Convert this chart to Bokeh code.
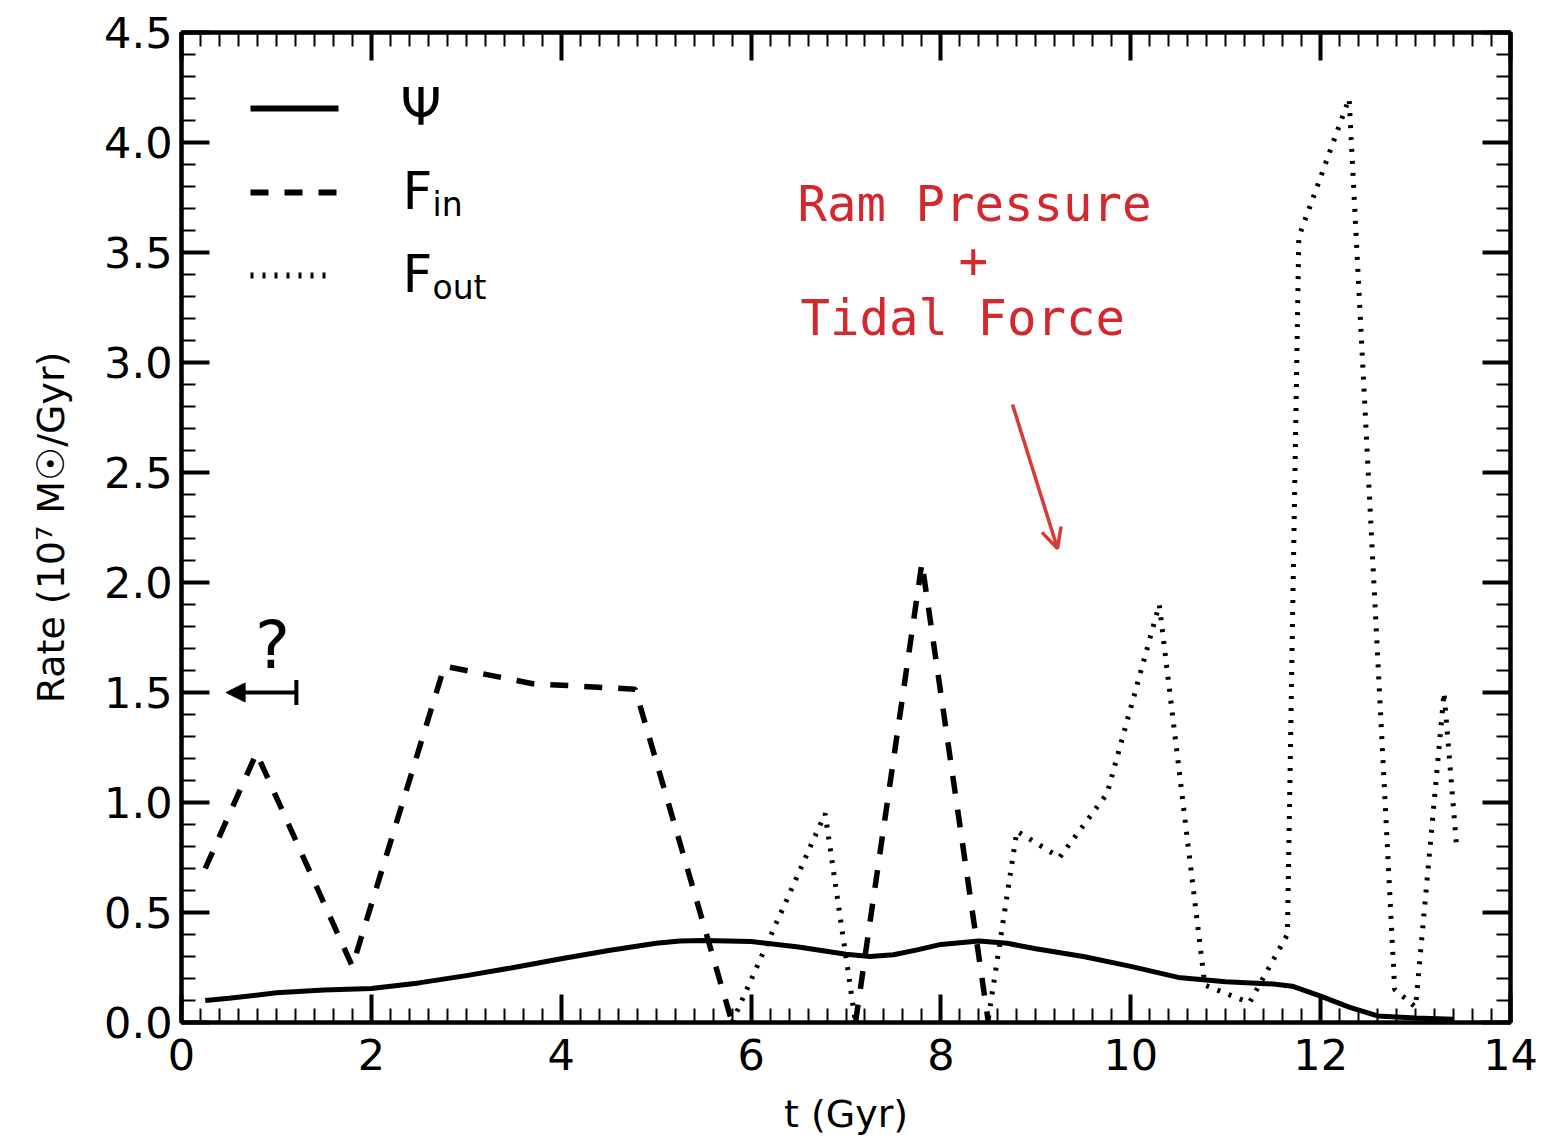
import math
from bokeh.plotting import figure
from bokeh.models import (Range1d, LinearAxis, SingleIntervalTicker, NumeralTickFormatter,
                          Arrow, NormalHead, TeeHead, OpenHead)
from bokeh.core.properties import value
from bokeh.embed import file_html
from bokeh.resources import INLINE

NAN = float("nan")

# ---------------- data ----------------
t_psi = [0.25, 0.5, 1.0, 1.5, 2.0, 2.5, 3.0, 3.5, 4.0, 4.5, 5.0, 5.25, 5.5, 6.0, 6.5, 7.0, 7.25,
         7.5, 7.75, 8.0, 8.4, 8.7, 9.0, 9.5, 10.0, 10.5, 11.0, 11.5, 11.7, 12.0, 12.3, 12.6,
         13.0, 13.4]
psi = [0.10, 0.11, 0.135, 0.148, 0.155, 0.18, 0.213, 0.25, 0.29, 0.327, 0.36, 0.37, 0.373,
       0.368, 0.343, 0.31, 0.30, 0.308, 0.33, 0.355, 0.37, 0.36, 0.335, 0.30, 0.255, 0.205,
       0.185, 0.175, 0.165, 0.12, 0.07, 0.03, 0.02, 0.015]

t_fin = [0.25, 0.79, 1.8, 2.77, 3.7, 4.78, 5.8, NAN, 7.1, 7.8, 8.5]
f_in = [0.70, 1.225, 0.255, 1.62, 1.54, 1.515, 0.0, NAN, 0.0, 2.09, 0.0]

t_fout = [5.8, 6.78, 7.1, NAN, 8.5, 8.8, 9.25, 9.75, 10.3, 10.78, 11.25, 11.65, 11.77,
          12.3, 12.78, 13.0, 13.3, 13.43]
f_out = [0.0, 0.95, 0.0, NAN, 0.02, 0.87, 0.75, 1.04, 1.9, 0.17, 0.09, 0.40, 3.57,
         4.2, 0.15, 0.07, 1.5, 0.81]

legend_labels = ["Ψ", "F", "F"]
legend_subs = ["", "in", "out"]
annot_lines = ["Ram Pressure", "+", "Tidal Force"]

X_RANGE = (0, 14)
Y_RANGE = (0, 4.5)

# ---------------- layout ----------------
W, H = 1552, 1141
L, R, T, B = 181, 42, 32, 119
FW, FH = W - L - R, H - T - B


def dx(px):
    return X_RANGE[0] + (px - L) / FW * (X_RANGE[1] - X_RANGE[0])


def dy(py):
    return Y_RANGE[0] + (H - B - py) / FH * (Y_RANGE[1] - Y_RANGE[0])


def dyb(py, size):
    # baseline correction observed for text glyphs in the svg backend
    return dy(py - 0.38 * size)


p = figure(width=W, height=H, output_backend="svg", toolbar_location=None,
           x_range=Range1d(*X_RANGE), y_range=Range1d(*Y_RANGE),
           min_border_left=L, min_border_right=R, min_border_top=T, min_border_bottom=B,
           x_axis_label="t (Gyr)", y_axis_label="Rate (10⁷ M☉/Gyr)")
p.background_fill_color = "white"
p.border_fill_color = "white"
p.outline_line_color = "black"
p.outline_line_width = 4
p.xgrid.visible = False
p.ygrid.visible = False

xt = SingleIntervalTicker(interval=2, num_minor_ticks=10)
yt = SingleIntervalTicker(interval=0.5, num_minor_ticks=5)

FONT = "DejaVu Sans"


def style_axis(ax, labels=True):
    ax.axis_line_width = 4
    ax.axis_line_color = "black"
    ax.major_tick_in = 28
    ax.major_tick_out = 0
    ax.minor_tick_in = 14
    ax.minor_tick_out = 0
    ax.major_tick_line_width = 4
    ax.minor_tick_line_width = 2
    ax.major_tick_line_color = "black"
    ax.minor_tick_line_color = "black"
    if labels:
        ax.major_label_text_font = FONT
        ax.major_label_text_font_size = "43px"
        ax.major_label_text_color = "black"
        ax.major_label_standoff = 9
        ax.axis_label_text_font = FONT
        ax.axis_label_text_font_size = "38px"
        ax.axis_label_text_font_style = "normal"
        ax.axis_label_text_color = "black"
    else:
        ax.major_label_text_font_size = "0px"
        ax.major_label_standoff = 0
        ax.major_label_text_color = None


p.xaxis.ticker = xt
p.yaxis.ticker = yt
p.yaxis.formatter = NumeralTickFormatter(format="0.0")
style_axis(p.xaxis[0])
style_axis(p.yaxis[0])
p.xaxis.major_label_standoff = 16
p.xaxis.axis_label_standoff = 19
p.yaxis.axis_label_standoff = 28

top = LinearAxis(ticker=xt)
style_axis(top, labels=False)
p.add_layout(top, "above")
right = LinearAxis(ticker=yt)
style_axis(right, labels=False)
p.add_layout(right, "right")

# ---------------- curves ----------------
p.line(t_psi, psi, line_color="black", line_width=5, line_join="round")
p.line(t_fin, f_in, line_color="black", line_width=5.5, line_dash="18 16")
p.line(t_fout, f_out, line_color="black", line_width=5, line_dash="3 9")

# ---------------- legend (drawn by hand) ----------------
p.line([dx(250), dx(338)], [dy(108), dy(108)], line_color="black", line_width=6)
p.line([dx(250), dx(338)], [dy(192), dy(192)], line_color="black", line_width=6,
       line_dash="18 16")
p.line([dx(250), dx(330)], [dy(275), dy(275)], line_color="black", line_width=6,
       line_dash="3 9")
p.text(x=[dx(400), dx(402), dx(402)], y=[dyb(126, 52), dyb(210, 52), dyb(293, 52)],
       text=legend_labels,
       text_font=value(FONT), text_font_size="52px", text_color="black",
       text_baseline="alphabetic", text_align="left")
p.text(x=[dx(432), dx(432)], y=[dyb(217, 33), dyb(300, 33)], text=legend_subs[1:],
       text_font=value(FONT), text_font_size="33px", text_color="black",
       text_baseline="alphabetic", text_align="left")

# ---------------- "?" arrow ----------------
p.add_layout(Arrow(x_start=1.21, y_start=1.5, x_end=0.47, y_end=1.5, line_width=4,
                   line_color="black",
                   start=TeeHead(size=25, line_width=4, line_color="black"),
                   end=NormalHead(size=19, fill_color="black", line_color="black",
                                  line_width=1)))
p.text(x=[dx(272)], y=[dyb(670, 66)], text=["?"], text_font=value(FONT),
       text_font_size="66px", text_color="black", text_baseline="alphabetic",
       text_align="center")

# ---------------- red annotation ----------------
RED = "#d2282e"
p.text(x=[dx(797), dx(958), dx(800)], y=[dyb(223, 49), dyb(278, 49), dyb(337, 49)],
       text=annot_lines,
       text_font=value("DejaVu Sans Mono"), text_font_size="49px", text_color=RED,
       text_baseline="alphabetic", text_align="left")
p.add_layout(Arrow(x_start=dx(1012), y_start=dy(404), x_end=dx(1057), y_end=dy(548),
                   line_width=3.5, line_color="#d83a3a",
                   end=OpenHead(size=20, line_width=3.5, line_color="#d83a3a")))

open("out.html", "w").write(file_html(p, INLINE))
